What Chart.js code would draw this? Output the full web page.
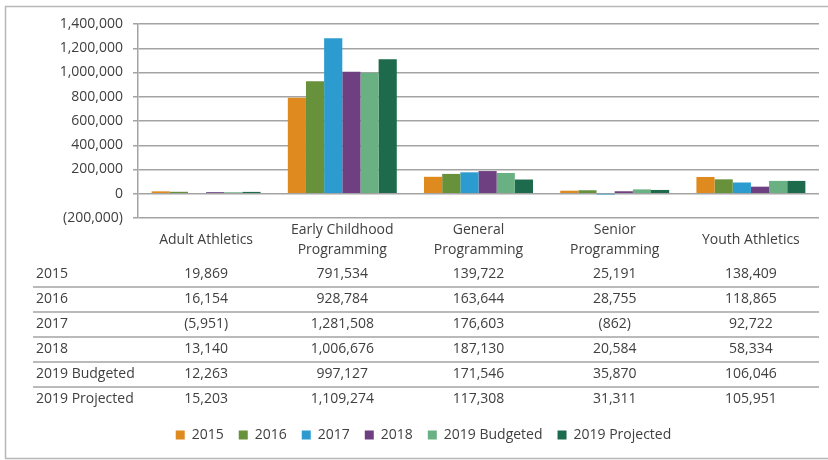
<!DOCTYPE html>
<html>
<head>
<meta charset="utf-8">
<script src="https://cdn.jsdelivr.net/npm/chart.js@4"></script>
<style>
html,body{margin:0;padding:0;background:#fff;}
#wrap{width:828px;height:460px;position:relative;}
</style>
</head>
<body>
<div id="wrap"><canvas id="c" width="828" height="460"></canvas></div>
<script>
const categories = ['Adult Athletics', ['Early Childhood','Programming'], ['General','Programming'], ['Senior','Programming'], 'Youth Athletics'];
const seriesNames = ['2015','2016','2017','2018','2019 Budgeted','2019 Projected'];
const v2015 = [19869, 791534, 139722, 25191, 138409];
const v2016 = [16154, 928784, 163644, 28755, 118865];
const v2017 = [-5951, 1281508, 176603, -862, 92722];
const v2018 = [13140, 1006676, 187130, 20584, 58334];
const v2019b = [12263, 997127, 171546, 35870, 106046];
const v2019p = [15203, 1109274, 117308, 31311, 105951];
const yMin = -200000, yMax = 1400000, yStep = 200000;

const seriesValues = [v2015, v2016, v2017, v2018, v2019b, v2019p];
const colors = ['#DF8A1F','#67913A','#2C9BCF','#6E3F81','#69B082','#1E6A4D'];
const FONT = '"Open Sans", "Liberation Sans", sans-serif';
const TXT = '#404040';
const GRID = '#a3a3a3';

function fmt(v){
  const s = Math.abs(v).toLocaleString('en-US');
  return v < 0 ? '(' + s + ')' : s;
}

const framePlugin = {
  id: 'frame',
  afterDraw(chart){
    const ctx = chart.ctx;
    ctx.save();
    ctx.strokeStyle = '#b8b8b8';
    ctx.lineWidth = 1.5;
    ctx.beginPath();
    ctx.moveTo(828, 6.5); ctx.lineTo(5.5, 6.5); ctx.lineTo(5.5, 458.5); ctx.lineTo(828, 458.5);
    ctx.stroke();
    ctx.restore();
  }
};

const legendShift = {
  id: 'legendShift',
  afterLayout(chart){
    if (chart.legend) { chart.legend.left += 28; }
  }
};

const tablePlugin = {
  id: 'dataTable',
  afterDraw(chart){
    const ctx = chart.ctx;
    const xs = chart.scales.x;
    const area = chart.chartArea;
    ctx.save();
    ctx.font = '14px ' + FONT;
    ctx.fillStyle = TXT;
    ctx.textBaseline = 'middle';
    const rowTop = 274, rowH = 25;
    chart.data.datasets.forEach((ds, i) => {
      const y = rowTop + i * rowH;
      ctx.textAlign = 'left';
      ctx.fillText(ds.label, 36, y);
      ctx.textAlign = 'center';
      ds.data.forEach((v, j) => {
        ctx.fillText(fmt(v), xs.getPixelForValue(j), y);
      });
      if (i < chart.data.datasets.length - 1) {
        ctx.strokeStyle = GRID;
        ctx.lineWidth = 1.5;
        ctx.beginPath();
        ctx.moveTo(33, y + 13);
        ctx.lineTo(area.right, y + 13);
        ctx.stroke();
      }
    });
    ctx.restore();
  }
};

new Chart(document.getElementById('c'), {
  type: 'bar',
  data: {
    labels: categories,
    datasets: seriesNames.map((n, i) => ({
      label: n,
      data: seriesValues[i],
      backgroundColor: colors[i],
      borderWidth: 0,
      barPercentage: 1.0,
      categoryPercentage: 0.8
    }))
  },
  options: {
    responsive: false,
    animation: false,
    devicePixelRatio: 1,
    layout: { padding: { top: 24, right: 9, left: 0, bottom: 8 } },
    plugins: {
      tooltip: { enabled: false },
      legend: {
        position: 'bottom',
        labels: {
          boxWidth: 9, boxHeight: 9, padding: 15,
          color: TXT,
          font: { family: FONT, size: 14 }
        }
      }
    },
    scales: {
      x: {
        grid: { display: false, drawTicks: false },
        border: { display: false },
        ticks: {
          color: TXT, padding: 12, maxRotation: 0, autoSkip: false,
          crossAlign: 'center',
          font: { family: FONT, size: 14, lineHeight: 1.4 }
        },
        afterFit(scale){ scale.height = 195; }
      },
      y: {
        min: yMin, max: yMax,
        grid: { color: GRID, lineWidth: 1.5, tickLength: 5, drawTicks: true },
        border: { display: true, color: GRID, width: 1.5 },
        ticks: {
          stepSize: yStep, color: TXT, padding: 10,
          font: { family: FONT, size: 14 },
          callback: (v) => fmt(v)
        },
        afterFit(scale){ scale.width = 138; }
      }
    }
  },
  plugins: [tablePlugin, framePlugin, legendShift]
});
</script>
</body>
</html>
